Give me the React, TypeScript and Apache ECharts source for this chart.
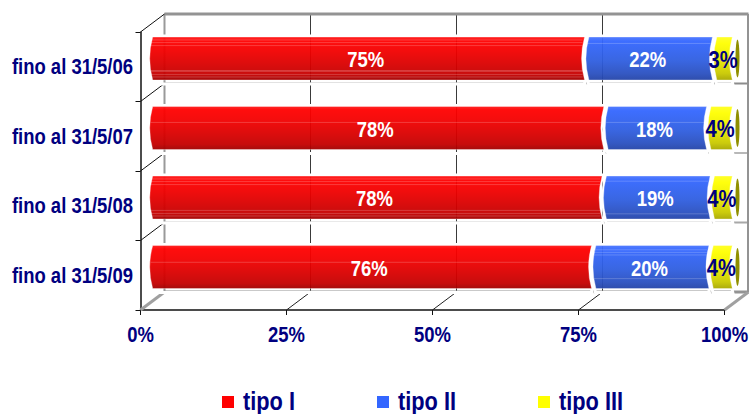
import React, { useEffect, useRef } from "react";
import * as echarts from "echarts";

const categories = ["fino al 31/5/06", "fino al 31/5/07", "fino al 31/5/08", "fino al 31/5/09"];
const tipoI = [74.7, 78.0, 77.7, 75.9];
const tipoII = [21.9, 17.6, 18.5, 20.1];
const tipoIII = [3.4, 4.4, 3.8, 4.0];
const xTicks = [0, 25, 50, 75, 100];
const seriesNames = ["tipo I", "tipo II", "tipo III"];

const NAVY = "#000080";
const FONT_FAMILY = '"Liberation Sans", Arial, sans-serif';
const NARROW = 0.84; // the reference's face is a narrow one

const DX = 24; // depth of the 3D box
const DY = -18;
const BAR_DX = 10;
const BAR_DY = -8.25;
const BAR_H = 43;
const BULGE = 3;
const INSET = 2.2;

// Pale streaks across the bars, as fractions of the bar's height, by series then row.
const TOP_BANDS = [0.07, 0.13, 0.2];
const BOTTOM_BANDS = [0.8, 0.87, 0.93];
const streaks = [
  [[...TOP_BANDS, ...BOTTOM_BANDS, 0.78], [0.37], [...TOP_BANDS, ...BOTTOM_BANDS], [0.39]],
  [[0.15], [0.37], [0.12, 0.88], [0.1, 0.16, 0.22, 0.77]],
  [[], [], [], []],
];
const wallRowColors = ["#939393", "#8c8c8c", "#b8b8b8", "#a8a8a8", "#939393"];

echarts.graphic.registerShape(
  "cylSeg",
  echarts.graphic.extendShape({
    shape: { x0: 0, x1: 0, y0: 0, y1: 0, b: 3 },
    buildPath(ctx: any, s: any) {
      const ym = (s.y0 + s.y1) / 2;
      ctx.moveTo(s.x0, s.y0);
      ctx.lineTo(s.x1, s.y0);
      ctx.quadraticCurveTo(s.x1 - 2 * s.b, ym, s.x1, s.y1);
      ctx.lineTo(s.x0, s.y1);
      ctx.quadraticCurveTo(s.x0 - 2 * s.b, ym, s.x0, s.y0);
      ctx.closePath();
    },
  }) as any
);

const grad = (stops: [number, string][]) =>
  new echarts.graphic.LinearGradient(0, 0, 0, 1, stops.map(([offset, color]) => ({ offset, color })));

const fills = [
  grad([[0, "#ff1a1a"], [0.08, "#ff0000"], [0.3, "#f40000"], [0.6, "#dc0000"], [0.88, "#c40000"], [1, "#a00000"]]),
  grad([[0, "#4a76ff"], [0.1, "#3366ff"], [0.55, "#2f5ee0"], [0.85, "#2a50c0"], [1, "#2444a8"]]),
  grad([[0, "#ffff20"], [0.15, "#ffff00"], [0.55, "#e8e800"], [0.85, "#c8c800"], [1, "#a8a800"]]),
];
const labelColors = ["#ffffff", "#ffffff", NAVY];
const legendColors = ["#ff0000", "#3366ff", "#ffff00"];
const allValues = [tipoI, tipoII, tipoIII];

const makeData = (k: number) =>
  categories.map((_, row) => {
    let start = 0;
    for (let j = 0; j < k; j++) start += allValues[j][row];
    return [start, row, allValues[k][row]];
  });

const narrowText = (text: string, x: number, y: number, size: number, fill: string, align = "center") => ({
  type: "text",
  x,
  y,
  scaleX: NARROW,
  style: {
    text,
    x: 0,
    y: 0,
    align,
    verticalAlign: "middle",
    fill,
    font: `bold ${size}px ${FONT_FAMILY}`,
  },
});

const wallRender = (params: any, api: any) => {
  if (params.dataIndex !== 0) return null;
  const c = params.coordSys;
  const rows = categories.length;
  const top = c.y;
  const bottom = c.y + c.height;
  const left = c.x;
  const right = c.x + c.width;
  const children: any[] = [];
  const line = (x1: number, y1: number, x2: number, y2: number, stroke: string, lineWidth: number) =>
    children.push({ type: "line", shape: { x1, y1, x2, y2 }, style: { stroke, lineWidth } });
  xTicks.forEach((t) => {
    const x = api.coord([t, 0])[0];
    const edge = t === 0 || t === 100;
    if (t !== 100) line(x + DX, top + DY, x + DX, bottom + DY, edge ? "#9a9a9a" : "#3a3a3a", edge ? 2 : 1);
    if (t > 0 && t < 100) line(x, bottom, x + DX, bottom + DY, "#222222", 1);
    children.push(narrowText(`${t}%`, x, bottom + 24, 22, NAVY));
  });
  for (let i = 0; i <= rows; i++) {
    const y = top + (c.height * i) / rows;
    const outer = i === 0 || i === rows;
    line(left + DX, y + DY, right + DX, y + DY, wallRowColors[i], outer ? 3 : 2);
    if (i < rows) line(left, y, left + DX, y + DY, "#111111", 1);
    if (i < rows) children.push(narrowText(categories[i], left - 7.5, y + c.height / rows / 2, 22, NAVY, "right"));
  }
  line(left, bottom, left + DX, bottom + DY, "#a0a0a0", 3);
  line(right, bottom, right + DX, bottom + DY, "#a0a0a0", 3);
  line(right + DX, top + DY, right + DX, bottom + DY, "#939393", 3);
  return { type: "group", children };
};

const segRender = (k: number) => (_params: any, api: any) => {
  const start = api.value(0);
  const row = api.value(1);
  const val = api.value(2);
  const p0 = api.coord([start, row]);
  const p1 = api.coord([start + val, row]);
  const cy = p0[1] + BAR_DY;
  const y0 = cy - BAR_H / 2;
  const y1 = cy + BAR_H / 2;
  const x0 = p0[0] + BAR_DX + INSET;
  const x1 = p1[0] + BAR_DX - INSET;
  const children: any[] = [
    {
      type: "cylSeg",
      shape: { x0: x0 - 0.5, x1: x1 + 0.5, y0: y0 - 1, y1: y1 + 4, b: BULGE },
      style: { fill: "none", stroke: "#ffffff", lineWidth: 3 },
    },
    {
      type: "cylSeg",
      shape: { x0, x1, y0, y1, b: BULGE },
      style: { fill: fills[k], opacity: 0.95, stroke: "rgba(255,255,255,0.35)", lineWidth: 1 },
    },
  ];
  streaks[k][row].forEach((f: number) => {
    const y = y0 + f * BAR_H;
    children.push({
      type: "line",
      shape: { x1: x0 - 2, y1: y, x2: x1 - 2, y2: y },
      style: { stroke: "rgba(255,255,255,0.2)", lineWidth: 1 },
    });
  });
  if (k === 2) {
    children.push({
      type: "ellipse",
      shape: { cx: p1[0] + BAR_DX + 3, cy, rx: 2, ry: 19 },
      style: { fill: "#8f8f00" },
    });
  }
  const lx = (x0 + x1) / 2 + (k === 2 ? -1.5 : -3);
  children.push(narrowText(`${Math.round(val)}%`, lx, cy + 1, k === 2 ? 24 : 22, labelColors[k]));
  return { type: "group", children };
};

const legendStarts = [222, 377, 538];

export default function App() {
  const ref = useRef<HTMLDivElement>(null);
  useEffect(() => {
    const chart = echarts.init(ref.current!, null, { renderer: "svg" });
    chart.setOption({
      animation: false,
      backgroundColor: "#ffffff",
      grid: { left: 140.5, top: 32, width: 584, height: 278 },
      graphic: seriesNames.flatMap((name, k) => [
        {
          type: "rect",
          shape: { x: legendStarts[k], y: 396, width: 12, height: 12 },
          style: { fill: legendColors[k] },
        },
        {
          type: "text",
          x: legendStarts[k] + 21,
          y: 401,
          scaleX: 0.87,
          style: {
            text: name,
            x: 0,
            y: 0,
            align: "left",
            verticalAlign: "middle",
            fill: NAVY,
            font: `bold 25px ${FONT_FAMILY}`,
          },
        },
      ]),
      xAxis: {
        type: "value",
        min: 0,
        max: 100,
        interval: 25,
        axisLine: { show: true, lineStyle: { color: "#111111", width: 1.5 } },
        axisTick: { show: true, length: 5, lineStyle: { color: "#111111" } },
        splitLine: { show: false },
        axisLabel: { show: false },
      },
      yAxis: {
        type: "category",
        inverse: true,
        data: categories,
        axisLine: { show: true, lineStyle: { color: "#111111", width: 1.5 } },
        axisTick: { show: true, length: 5, alignWithLabel: false, lineStyle: { color: "#111111" } },
        splitLine: { show: false },
        axisLabel: { show: false },
      },
      series: [
        {
          type: "custom",
          name: "wall",
          z: 1,
          silent: true,
          clip: false,
          renderItem: wallRender,
          encode: { x: 0, y: 1 },
          data: [[0, 0]],
        },
        ...seriesNames.map((name, k) => ({
          type: "custom",
          name,
          z: 3 + k,
          clip: false,
          itemStyle: { color: legendColors[k] },
          renderItem: segRender(k),
          encode: { x: 0, y: 1 },
          data: makeData(k),
        })),
      ],
    });
    return () => chart.dispose();
  }, []);
  return <div ref={ref} style={{ position: "fixed", left: 0, top: 0, width: 749, height: 414 }} />;
}
